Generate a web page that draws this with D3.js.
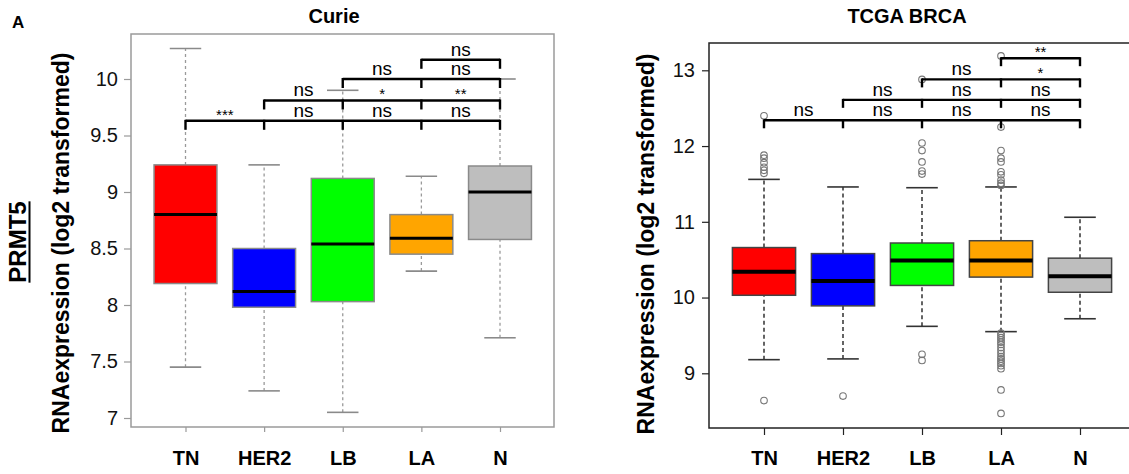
<!DOCTYPE html>
<html lang="en">
<head>
    <meta charset="UTF-8">
    <title>PRMT5 expression - Curie / TCGA BRCA</title>
    <script src="https://d3js.org/d3.v7.min.js"></script>
    <style>
        body {
            margin: 0;
            background: #fff;
            font-family: "Liberation Sans", Arial, sans-serif;
        }
        svg text { font-family: "Liberation Sans", Arial, sans-serif; }
    </style>
</head>
<body>
    <div id="chart"></div>

    <script>
        // groups and colours shared by both panels
        const groups = ["TN", "HER2", "LB", "LA", "N"];
        const boxColors = ["#ff0000", "#0000ff", "#00ff00", "#ffa500", "#bebebe"];

        // box stats: [lower whisker, q1, median, q3, upper whisker]
        const curieStats = [
            [7.45, 8.19, 8.80, 9.24, 10.27],
            [7.24, 7.98, 8.12, 8.50, 9.24],
            [7.05, 8.03, 8.54, 9.12, 9.90],
            [8.30, 8.45, 8.59, 8.80, 9.14],
            [7.71, 8.58, 9.00, 9.23, 10.00]
        ];
        const tcgaStats = [
            [9.18, 10.03, 10.34, 10.66, 11.56],
            [9.19, 9.89, 10.22, 10.58, 11.46],
            [9.62, 10.16, 10.49, 10.72, 11.45],
            [9.55, 10.27, 10.49, 10.75, 11.46],
            [9.72, 10.07, 10.28, 10.52, 11.06]
        ];
        const tcgaOutliers = [
            [12.40, 11.88, 11.84, 11.78, 11.72, 11.68, 11.64, 8.64],
            [8.70],
            [12.88, 12.04, 11.94, 11.79, 11.67, 11.63, 9.25, 9.17],
            [13.19, 12.25, 11.94, 11.84, 11.79, 11.66, 11.62, 11.55, 11.51, 11.48,
             9.53, 9.50, 9.47, 9.44, 9.41, 9.38, 9.34, 9.30, 9.26, 9.22, 9.19,
             9.16, 9.13, 9.10, 9.06, 8.78, 8.47],
            []
        ];

        // significance labels: row i compares groups[i] with every group to its right
        const curieSig = [["***", "ns", "ns", "ns"], ["ns", "*", "**"], ["ns", "ns"], ["ns"]];
        const curieSigLevels = [9.63, 9.81, 10.0, 10.17];
        const tcgaSig = [["ns", "ns", "ns", "ns"], ["ns", "ns", "ns"], ["ns", "*"], ["**"]];
        const tcgaSigLevels = [12.34, 12.61, 12.88, 13.16];

        const curieTicks = [7, 7.5, 8, 8.5, 9, 9.5, 10];
        const tcgaTicks = [9, 10, 11, 12, 13];

        const W = 1129, H = 474;
        const svg = d3.select("#chart").append("svg")
            .attr("width", W)
            .attr("height", H);

        function drawPanel(p) {
            const g = svg.append("g");
            const x = d3.scalePoint().domain(groups).range(p.xRange);
            const y = d3.scaleLinear().domain(p.yDomain).range(p.yRange);
            const step = x.step();
            const bw = step * 0.8;
            const cw = bw / 2;

            // frame
            g.append("rect")
                .attr("x", p.frame[0]).attr("y", p.frame[1])
                .attr("width", p.frame[2] - p.frame[0])
                .attr("height", p.frame[3] - p.frame[1])
                .attr("fill", "none")
                .attr("stroke", p.frameColor)
                .attr("stroke-width", 1.5);

            // y axis
            const ya = g.append("g")
                .attr("transform", `translate(${p.frame[0]},0)`)
                .call(d3.axisLeft(y).tickValues(p.ticks).tickSize(7).tickPadding(p.tickPad)
                    .tickFormat(d3.format("")));
            ya.select(".domain").remove();
            ya.selectAll("line").attr("stroke", p.frameColor).attr("stroke-width", 1.2);
            ya.selectAll("text").attr("font-size", 20).attr("fill", "#111");

            // x axis
            const xa = g.append("g")
                .attr("transform", `translate(0,${p.frame[3]})`)
                .call(d3.axisBottom(x).tickSize(p.xTick).tickPadding(0));
            xa.select(".domain").remove();
            xa.selectAll("line").attr("stroke", p.frameColor).attr("stroke-width", 1.2);
            xa.selectAll("text")
                .attr("y", 465 - p.frame[3]).attr("dy", 0)
                .attr("font-size", 20).attr("font-weight", "bold").attr("fill", "#000");

            const stats = p.stats.map((s, i) => ({ g: groups[i], s: s, c: boxColors[i] }));

            // whiskers
            const wk = g.selectAll(".whisk").data(stats).enter();
            [[0, 1], [3, 4]].forEach(([a, b]) => {
                wk.append("line")
                    .attr("x1", d => x(d.g)).attr("x2", d => x(d.g))
                    .attr("y1", d => y(d.s[a])).attr("y2", d => y(d.s[b]))
                    .attr("stroke", p.whiskColor)
                    .attr("stroke-width", 1.3)
                    .attr("stroke-dasharray", p.dash);
            });
            [0, 4].forEach(k => {
                wk.append("line")
                    .attr("x1", d => x(d.g) - cw / 2).attr("x2", d => x(d.g) + cw / 2)
                    .attr("y1", d => y(d.s[k])).attr("y2", d => y(d.s[k]))
                    .attr("stroke", p.capColor)
                    .attr("stroke-width", 1.6);
            });

            // boxes
            g.selectAll(".box").data(stats).enter().append("rect")
                .attr("x", d => x(d.g) - bw / 2)
                .attr("y", d => y(d.s[3]))
                .attr("width", bw)
                .attr("height", d => y(d.s[1]) - y(d.s[3]))
                .attr("fill", d => d.c)
                .attr("stroke", p.boxStroke)
                .attr("stroke-width", 1.5);

            g.selectAll(".med").data(stats).enter().append("line")
                .attr("x1", d => x(d.g) - bw / 2).attr("x2", d => x(d.g) + bw / 2)
                .attr("y1", d => y(d.s[2])).attr("y2", d => y(d.s[2]))
                .attr("stroke", "#000")
                .attr("stroke-width", p.medWidth);

            // outliers
            if (p.outliers) {
                const pts = [];
                p.outliers.forEach((arr, i) => arr.forEach(v => pts.push({ g: groups[i], v: v })));
                g.selectAll(".out").data(pts).enter().append("circle")
                    .attr("cx", d => x(d.g)).attr("cy", d => y(d.v))
                    .attr("r", 3.3)
                    .attr("fill", "none")
                    .attr("stroke", "#777")
                    .attr("stroke-width", 1.1);
            }

            // significance brackets
            p.sig.forEach((labels, i) => {
                const ly = y(p.sigLevels[i]);
                const from = groups[i];
                const bg = g.append("g");
                bg.append("line")
                    .attr("x1", x(from)).attr("x2", x(groups[groups.length - 1]))
                    .attr("y1", ly).attr("y2", ly)
                    .attr("stroke", "#000").attr("stroke-width", 2.4);
                groups.slice(i).forEach(gr => {
                    bg.append("line")
                        .attr("x1", x(gr)).attr("x2", x(gr))
                        .attr("y1", ly - 1).attr("y2", ly + p.brTick)
                        .attr("stroke", "#000").attr("stroke-width", 2.4);
                });
                labels.forEach((lab, j) => {
                    const mx = (x(groups[i + j]) + x(groups[i + j + 1])) / 2;
                    const star = lab.indexOf("*") >= 0;
                    bg.append("text")
                        .attr("x", mx)
                        .attr("y", star ? ly - 1 : ly - 4)
                        .attr("text-anchor", "middle")
                        .attr("font-size", star ? 15 : 19)
                        .attr("fill", "#000")
                        .text(lab);
                });
            });

            // titles
            svg.append("text")
                .attr("x", p.titleX).attr("y", 23)
                .attr("text-anchor", "middle")
                .attr("font-size", 20).attr("font-weight", "bold")
                .text(p.title);

            svg.append("text")
                .attr("transform", `translate(${p.yTitleX},${p.yTitleY}) rotate(-90)`)
                .attr("text-anchor", "middle")
                .attr("font-size", 23).attr("font-weight", "bold")
                .text("RNAexpression (log2 transformed)");
        }

        drawPanel({
            title: "Curie", titleX: 334,
            xRange: [185.5, 500],
            yDomain: [7, 10], yRange: [418, 79],
            frame: [131, 34, 554, 427],
            frameColor: "#9a9a9a",
            ticks: curieTicks, tickPad: 6, xTick: 5,
            stats: curieStats,
            whiskColor: "#9a9a9a", capColor: "#8a8a8a", dash: "3,3",
            boxStroke: "#8a8a8a", medWidth: 3,
            sig: curieSig, sigLevels: curieSigLevels, brTick: 9,
            yTitleX: 69, yTitleY: 243
        });

        drawPanel({
            title: "TCGA BRCA", titleX: 907,
            xRange: [764, 1080],
            yDomain: [9, 13], yRange: [373.3, 70.3],
            frame: [709, 43, 1135, 428],
            frameColor: "#222",
            ticks: tcgaTicks, tickPad: 7, xTick: 7,
            stats: tcgaStats, outliers: tcgaOutliers,
            whiskColor: "#111", capColor: "#333", dash: "4,3",
            boxStroke: "#444", medWidth: 4,
            sig: tcgaSig, sigLevels: tcgaSigLevels, brTick: 8,
            yTitleX: 654, yTitleY: 244
        });

        // panel letter and gene label
        svg.append("text")
            .attr("x", 12).attr("y", 28)
            .attr("font-size", 17).attr("font-weight", "bold")
            .text("A");

        const gene = svg.append("text")
            .attr("transform", "translate(26,242) rotate(-90)")
            .attr("text-anchor", "middle")
            .attr("font-size", 24).attr("font-weight", "bold")
            .text("PRMT5");
        const gl = gene.node().getComputedTextLength();
        svg.append("line")
            .attr("x1", 29.5).attr("x2", 29.5)
            .attr("y1", 242 - gl / 2).attr("y2", 242 + gl / 2)
            .attr("stroke", "#000").attr("stroke-width", 2);
    </script>
</body>
</html>
